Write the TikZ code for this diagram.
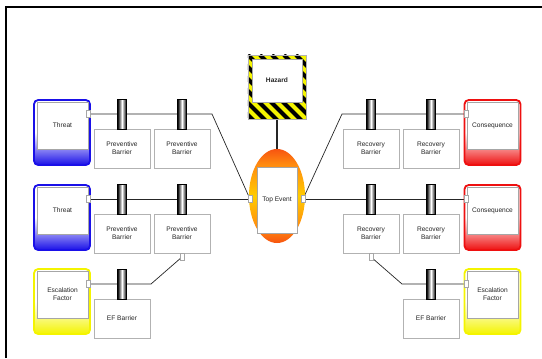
\documentclass[tikz,border=0pt]{standalone}
\usepackage{fontspec}
\setmainfont{Liberation Sans}
\usetikzlibrary{positioning,calc,shapes.geometric,backgrounds}
\definecolor{bowBlue}{HTML}{1A10E8}
\definecolor{bowRed}{HTML}{EE1010}
\definecolor{bowYellow}{HTML}{F4F400}
\definecolor{bowOrange}{HTML}{FF8A10}
\pgfdeclareverticalshading{topband}{100bp}{color(0bp)=(bowRed); color(15bp)=(bowRed);
  color(33bp)=(bowOrange); color(50bp)=(yellow!60!orange); color(67bp)=(bowOrange);
  color(85bp)=(bowRed); color(100bp)=(bowRed)}

\begin{document}
\begin{tikzpicture}[x=0.025cm,y=-0.025cm,
  font=\fontsize{4.7}{5.7}\selectfont,
  every node/.style={inner sep=0pt, outer sep=0pt, align=center, text=black!85},
  cause/.style={draw=#1, line width=1.3pt, rounded corners=3pt,
    top color=white, bottom color=#1, middle color=white,
    minimum width=1.4cm, minimum height=1.625cm},
  face/.style={draw=gray!70, fill=white, line width=0.3pt,
    minimum width=1.275cm, minimum height=1.175cm},
  disc/.style={draw=black, line width=0.2pt, left color=black,
    right color=black, middle color=white,
    minimum width=0.22cm, minimum height=0.75cm},
  barrier/.style={draw=gray!60, fill=white, line width=0.4pt,
    minimum width=1.4cm, minimum height=0.975cm},
  port/.style={draw=gray!70, fill=white, line width=0.3pt,
    minimum width=0.1cm, minimum height=0.175cm},
  link/.style={draw=gray!30!black, line width=0.5pt}]
\useasboundingbox (0,0) rectangle (542,358);
\draw[line width=1.5pt] (6,358) -- (6,7) -- (542,7);

% hazard
\node[minimum width=1.45cm, minimum height=1.6cm, fill=bowYellow] (hazard) at (277,87) {};
\begin{scope}
  \clip (hazard.north west) rectangle (hazard.south east);
  \foreach \s in {-84,-72,...,60}
    \draw[line width=3pt] ($(hazard.north west)+(\s,0)$) -- ++(80,80);
\end{scope}
\draw[gray!60, line width=0.3pt] (hazard.north west) rectangle (hazard.south east);
\node[draw=gray!70, fill=white, line width=0.3pt, minimum width=1.25cm,
  minimum height=1.075cm, font=\fontsize{4.7}{5.7}\selectfont\bfseries] (hazardin) at (277,80.5) {Hazard};

% top event
\node[ellipse, minimum width=1.4cm, minimum height=2.35cm, shading=topband] (top) at (277,196) {};
\node[draw=gray!70, fill=white, line width=0.3pt, minimum width=1cm,
  minimum height=1.65cm] (topin) at (277,200) {Top Event};

% threats
\node[cause=bowBlue] (threatA) at (62,132.5) {};
\node[face] (threatAin) at (62.5,125.5) {Threat};
\node[cause=bowBlue] (threatB) at (62,217.5) {};
\node[face] (threatBin) at (62.5,210.5) {Threat};
\node[cause=bowYellow] (escL) at (62,301.5) {};
\node[face] (escLin) at (62.5,294.5) {Escalation\\Factor};

% consequences
\node[cause=bowRed] (consA) at (492.5,132.5) {};
\node[face] (consAin) at (492.5,125.5) {Consequence};
\node[cause=bowRed] (consB) at (492.5,217.5) {};
\node[face] (consBin) at (492.5,210.5) {Consequence};
\node[cause=bowYellow] (escR) at (492.5,301.5) {};
\node[face] (escRin) at (492.5,294.5) {Escalation\\Factor};

% barrier boxes
\node[barrier] (pbA1) at (122,148.5) {Preventive\\Barrier};
\node[barrier] (pbA2) at (182,148.5) {Preventive\\Barrier};
\node[barrier] (pbB1) at (122,233.5) {Preventive\\Barrier};
\node[barrier] (pbB2) at (182,233.5) {Preventive\\Barrier};
\node[barrier] (efL)  at (122,318.5) {EF Barrier};
\node[barrier] (rbA1) at (371,148.5) {Recovery\\Barrier};
\node[barrier] (rbA2) at (431,148.5) {Recovery\\Barrier};
\node[barrier] (rbB1) at (371,233.5) {Recovery\\Barrier};
\node[barrier] (rbB2) at (431,233.5) {Recovery\\Barrier};
\node[barrier] (efR)  at (431,318.5) {EF Barrier};

% barrier discs
\foreach \n/\x/\y in {dA1/122/114, dA2/182/114, dB1/122/199, dB2/182/199, dE1/122/284,
                      dR1/371/114, dR2/431/114, dS1/371/199, dS2/431/199, dE2/431/284}
  \node[disc] (\n) at (\x,\y) {};

% ports
\node[port] (pTA) at (88.5,114) {};
\node[port] (pTB) at (88.5,199) {};
\node[port] (pEL) at (88.5,284) {};
\node[port] (pCA) at (466,114) {};
\node[port] (pCB) at (466,199) {};
\node[port] (pER) at (466,284) {};
\node[port] (pTopL) at (250,199) {};
\node[port] (pTopR) at (303,199) {};
\node[port] (pPB) at (182,257) {};
\node[port] (pRB) at (371,257) {};

\coordinate (kA) at (212,114);
\coordinate (kR) at (342,114);
\coordinate (kE) at (151,284);
\coordinate (kF) at (402,284);

\begin{scope}[on background layer]
  \draw[link] (pTA) -- (kA) -- (pTopL);
  \draw[link] (pTB) -- (pTopL);
  \draw[link] (pTopR) -- (kR) -- (pCA);
  \draw[link] (pTopR) -- (pCB);
  \draw[link] (pPB) -- (kE) -- (pEL);
  \draw[link] (pRB) -- (kF) -- (pER);
  \draw[link, line width=1pt] (hazard.south) -- (top.north);
\end{scope}
\end{tikzpicture}
\end{document}
